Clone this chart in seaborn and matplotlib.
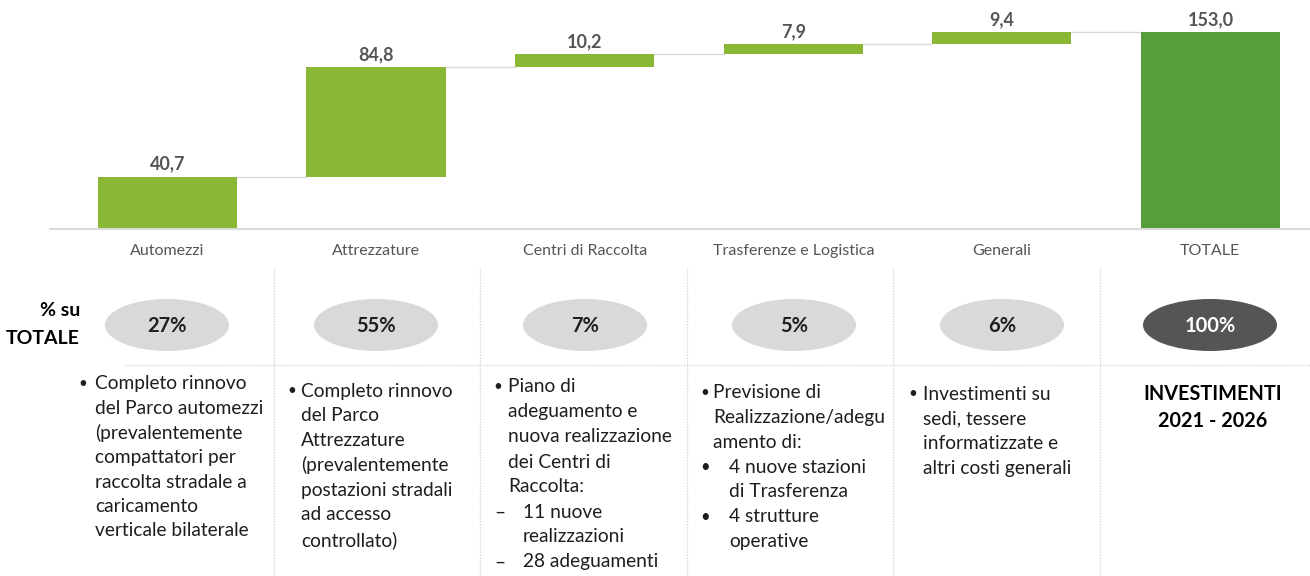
import numpy as np
import pandas as pd
import seaborn as sns
import matplotlib
matplotlib.use('Agg')
import matplotlib.pyplot as plt
from matplotlib.patches import Ellipse

# --- data ---
categorie = ['Automezzi', 'Attrezzature', 'Centri di Raccolta',
             'Trasferenze e Logistica', 'Generali', 'TOTALE']
valori = [40.7, 84.8, 10.2, 7.9, 9.4, 153.0]
percentuali = ['27%', '55%', '7%', '5%', '6%', '100%']

# description columns: (kind, text) - kind: b=bullet, c=continuation, d=dash item, s=sub bullet, sc=sub continuation
desc_automezzi = [('b', 'Completo rinnovo'), ('c', 'del Parco automezzi'), ('c', '(prevalentemente'),
                  ('c', 'compattatori per'), ('c', 'raccolta stradale a'), ('c', 'caricamento'),
                  ('c', 'verticale bilaterale')]
desc_attrezzature = [('b', 'Completo rinnovo'), ('c', 'del Parco'), ('c', 'Attrezzature'),
                     ('c', '(prevalentemente'), ('c', 'postazioni stradali'), ('c', 'ad accesso'),
                     ('c', 'controllato)')]
desc_centri = [('b', 'Piano di'), ('c', 'adeguamento e'), ('c', 'nuova realizzazione'),
               ('c', 'dei Centri di'), ('c', 'Raccolta:'), ('d', '11 nuove'), ('sc', 'realizzazioni'),
               ('d', '28 adeguamenti')]
desc_trasferenze = [('b', 'Previsione di'), ('c', 'Realizzazione/adegu'), ('c', 'amento di:'),
                    ('s', '4 nuove stazioni'), ('sc', 'di Trasferenza'), ('s', '4 strutture'),
                    ('sc', 'operative')]
desc_generali = [('b', 'Investimenti su'), ('c', 'sedi, tessere'), ('c', 'informatizzate e'),
                 ('c', 'altri costi generali')]
titolo_totale = ['INVESTIMENTI', '2021 - 2026']

# waterfall bases
basi = list(np.concatenate([[0], np.cumsum(valori[:4])])) + [0]
tops = [b + v for b, v in zip(basi, valori)]
df = pd.DataFrame({'categoria': categorie, 'valore': valori, 'base': basi})

light_green = '#8ab834'
dark_green = '#559e3a'
grid_gray = '#d9d9d9'
text_gray = '#555555'
text_dark = '#1e1e1e'

sns.set_theme(style='white')
plt.rcParams['font.family'] = ['Lato', 'DejaVu Sans']

W, H = 1310, 576
fig = plt.figure(figsize=(W / 100, H / 100), dpi=100)

# overlay axes in pixel coordinates
ov = fig.add_axes([0, 0, 1, 1])
ov.set_xlim(0, W)
ov.set_ylim(H, 0)
ov.axis('off')

# main waterfall axes
px_per_unit = 1.288
ax_top_px, ax_base_px = 20, 229
ax = fig.add_axes([50 / W, (H - ax_base_px) / H, 1260 / W, (ax_base_px - ax_top_px) / H])
ax.patch.set_alpha(0)
bar_w = 0.667
sns.barplot(data=df, x='categoria', y='valore', bottom=df['base'].values,
            color=light_green, saturation=1, width=bar_w, linewidth=0, ax=ax)
ax.patches[-1].set_facecolor(dark_green)
ax.set_xlim(-0.563, 5.477)
ax.set_ylim(0, (ax_base_px - ax_top_px) / px_per_unit)
ax.set_yticks([])
ax.set_xticks([])
ax.set_xlabel('')
ax.set_ylabel('')
for s in ['top', 'right', 'left']:
    ax.spines[s].set_visible(False)
ax.spines['bottom'].set_color(grid_gray)
ax.spines['bottom'].set_linewidth(1.5)

# connectors
for i in range(len(valori) - 1):
    ax.plot([i + bar_w / 2, i + 1 - bar_w / 2], [tops[i], tops[i]], color=grid_gray, lw=1, zorder=0)

# value labels
for i, (t, v) in enumerate(zip(tops, valori)):
    ax.annotate(f'{v:.1f}'.replace('.', ','), (i, t), xytext=(0, 3), textcoords='offset points',
                ha='center', va='bottom', fontsize=13, fontweight='bold', color=text_gray,
                annotation_clip=False)

# category labels
col_x = [167, 376, 585, 794, 1002, 1210]
for x, c in zip(col_x, categorie):
    ov.text(x, 251, c, ha='center', va='center', fontsize=11.5, color=text_gray)

# separators
for x in [274, 480, 687, 893, 1100]:
    ov.plot([x, x], [268, H], color=grid_gray, lw=1, ls=(0, (1, 1)))
ov.plot([125, W], [365, 365], color=grid_gray, lw=1, ls=(0, (1, 1)))

# % su TOTALE
ov.text(80, 311, '% su', ha='right', va='center', fontsize=14, fontweight='bold', color='black')
ov.text(80, 338, 'TOTALE', ha='right', va='center', fontsize=14, fontweight='bold', color='black')

for i, (x, p) in enumerate(zip(col_x, percentuali)):
    last = i == len(percentuali) - 1
    ov.add_patch(Ellipse((x, 325), 124 if not last else 134, 52,
                         facecolor=text_gray if last else grid_gray, edgecolor='none'))
    ov.text(x, 326, p, ha='center', va='center', fontsize=14.5, fontweight='bold',
            color='white' if last else text_dark)

# description columns
fs = 13.8
layout = [  # bullet x, text x, sub bullet x, sub text x, first line y, line step
    (78, 95, 78, 110, 384, 24.5),
    (287, 301, 287, 316, 391, 24.8),
    (493, 508, 494, 523, 387, 25.0),
    (700, 713, 700, 729, 393, 24.7),
    (908, 923, 908, 938, 394, 24.7),
]
descs = [desc_automezzi, desc_attrezzature, desc_centri, desc_trasferenze, desc_generali]
for (bx, tx, sbx, stx, y0, dy), lines in zip(layout, descs):
    for j, (kind, txt) in enumerate(lines):
        y = y0 + j * dy
        if kind == 'b':
            ov.text(bx, y, '•', ha='left', va='center', fontsize=11, color=text_dark)
            ov.text(tx, y, txt, ha='left', va='center', fontsize=fs, color=text_dark)
        elif kind == 'c':
            ov.text(tx, y, txt, ha='left', va='center', fontsize=fs, color=text_dark)
        elif kind == 'd':
            ov.text(sbx, y, '–', ha='left', va='center', fontsize=fs, color=text_dark)
            ov.text(stx, y, txt, ha='left', va='center', fontsize=fs, color=text_dark)
        elif kind == 's':
            ov.text(sbx, y, '•', ha='left', va='center', fontsize=12, color=text_dark)
            ov.text(stx, y, txt, ha='left', va='center', fontsize=fs, color=text_dark)
        else:
            ov.text(stx, y, txt, ha='left', va='center', fontsize=fs, color=text_dark)

for j, t in enumerate(titolo_totale):
    ov.text(1213, 394 + j * 27, t, ha='center', va='center', fontsize=14.3, fontweight='bold', color='black')

fig.savefig('out.png', dpi=100)
